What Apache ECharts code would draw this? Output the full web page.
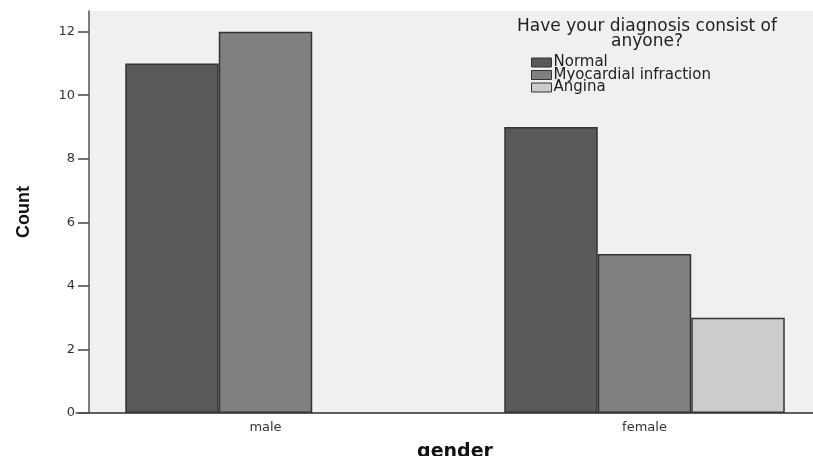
<!DOCTYPE html>
<html>
<head>
<meta charset="utf-8">
<script src="https://cdn.jsdelivr.net/npm/echarts@6/dist/echarts.min.js"></script>
<style>
html, body { margin: 0; padding: 0; background: #fff; }
#chart { width: 813px; height: 456px; }
</style>
</head>
<body>
<div id="chart"></div>
<script>
// data
var categories = ['male', 'female'];
var legendNames = ['Normal', 'Myocardial infraction', 'Angina'];
var normal = [11, 9];
var myocardial = [12, 5];
var angina = [null, 3];
var yTicks = [0, 2, 4, 6, 8, 10, 12];

var font = 'DejaVu Sans';
var barColors = ['#595959', '#808080', '#cccccc'];

function bar(name, data, color) {
    return {
        name: name,
        type: 'bar',
        xAxisIndex: 0,
        yAxisIndex: 0,
        barWidth: 93.5,
        barGap: '0%',
        data: data,
        itemStyle: { color: color, borderColor: '#333', borderWidth: 1.5 }
    };
}

var option = {
    animation: false,
    title: {
        text: 'Have your diagnosis consist of\nanyone?',
        left: 647,
        top: 19,
        textAlign: 'center',
        padding: 0,
        textStyle: { fontFamily: font, fontSize: 17, fontWeight: 'normal', color: '#222', lineHeight: 15, align: 'center' }
    },
    legend: {
        data: legendNames,
        orient: 'vertical',
        left: 531,
        top: 55,
        padding: 0,
        itemGap: -2.5,
        itemWidth: 20,
        itemHeight: 9,
        icon: 'rect',
        selectedMode: false,
        itemStyle: { borderColor: '#333', borderWidth: 1 },
        textStyle: { fontFamily: font, fontSize: 15, lineHeight: 12.5, color: '#222', padding: [0, 0, 0, -3] }
    },
    grid: [
        // bars: wider than the visible plot so the category centres match
        { left: 76, width: 758, top: 11, bottom: 43, show: false, outerBoundsMode: 'none', containLabel: false },
        // visible plot frame
        { left: 89, right: 0, top: 11, bottom: 43, show: true, backgroundColor: '#f0f0f0', borderWidth: 0, outerBoundsMode: 'none', containLabel: false }
    ],
    xAxis: [
        {
            type: 'category',
            gridIndex: 0,
            data: categories,
            name: 'gender',
            nameLocation: 'middle',
            nameGap: 30,
            nameTextStyle: { fontFamily: font, fontSize: 19, fontWeight: 'bold', color: '#111' },
            axisLine: { lineStyle: { color: '#555', width: 1.5 } },
            axisTick: { alignWithLabel: true, length: 5, lineStyle: { color: '#333' } },
            axisLabel: { fontFamily: font, fontSize: 13, color: '#333', margin: 8 }
        },
        {
            type: 'value',
            gridIndex: 1,
            position: 'top',
            axisLine: { show: true, lineStyle: { color: '#555', width: 1.5 } },
            axisTick: { show: false },
            axisLabel: { show: false },
            splitLine: { show: false }
        }
    ],
    yAxis: [
        {
            type: 'value',
            gridIndex: 0,
            min: 0,
            max: 12.65,
            show: false,
            splitLine: { show: false }
        },
        {
            type: 'value',
            gridIndex: 1,
            min: 0,
            max: 12.65,
            interval: 2,
            name: 'Count',
            nameLocation: 'middle',
            nameRotate: 90,
            nameGap: 56,
            nameTextStyle: { fontFamily: 'Liberation Sans Narrow, Liberation Sans', fontSize: 18, fontWeight: 'bold', color: '#111' },
            axisLine: { show: true, lineStyle: { color: '#555', width: 1.5 } },
            axisTick: { show: true, length: 11, customValues: yTicks, lineStyle: { color: '#444', width: 1.5 } },
            axisLabel: { fontFamily: font, fontSize: 13, color: '#333', margin: 14, customValues: yTicks },
            splitLine: { show: false }
        }
    ],
    series: [
        bar(legendNames[0], normal, barColors[0]),
        bar(legendNames[1], myocardial, barColors[1]),
        bar(legendNames[2], angina, barColors[2])
    ]
};

var chart = echarts.init(document.getElementById('chart'));
chart.setOption(option);
</script>
</body>
</html>
